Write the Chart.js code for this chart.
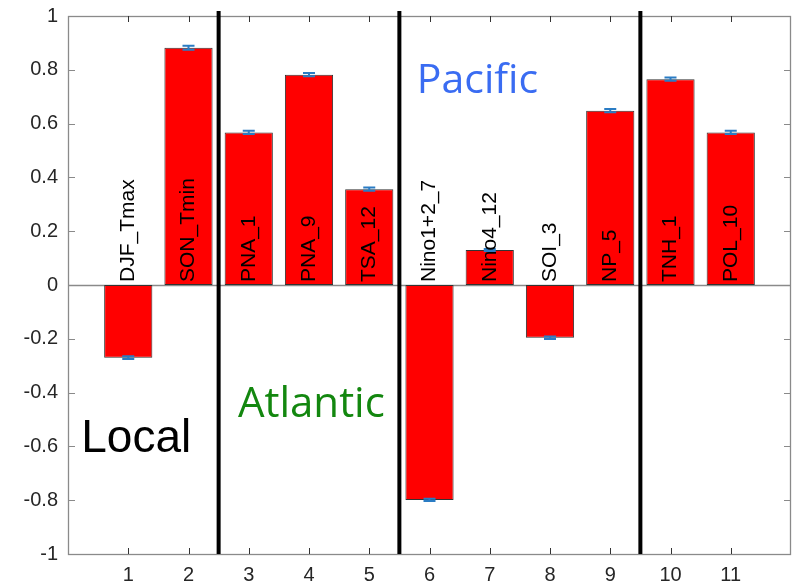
<!DOCTYPE html>
<html>
<head>
<meta charset="utf-8">
<script src="https://cdn.jsdelivr.net/npm/chart.js@4.4.1/dist/chart.umd.min.js"></script>
<style>
  body { margin: 0; background: #fff; }
  #wrap { width: 797px; height: 586px; }
</style>
</head>
<body>
<div id="wrap"><canvas id="predChart"></canvas></div>
<script>
// bar positions, names and values
const positions = [1, 2, 3, 4, 5, 6, 7, 8, 9, 10, 11];
const names = ["DJF_Tmax", "SON_Tmin", "PNA_1", "PNA_9", "TSA_12", "Nino1+2_7", "Nino4_12", "SOI_3", "NP_5", "TNH_1", "POL_10"];
const values = [-0.27, 0.882, 0.567, 0.782, 0.356, -0.799, 0.13, -0.196, 0.648, 0.765, 0.567];
const errors = [0.005, 0.007, 0.006, 0.006, 0.006, 0.004, 0.004, 0.005, 0.006, 0.006, 0.006];

// axis ticks
const xTickLabels = ["1", "2", "3", "4", "5", "6", "7", "8", "9", "10", "11"];
const yTickLabels = ["-1", "-0.8", "-0.6", "-0.4", "-0.2", "0", "0.2", "0.4", "0.6", "0.8", "1"];

// group separators and region names
const separators = [2.5, 5.5, 9.5];
const regions = [
  { text: "Local", x: 0.22, y: -0.62, color: "#000000", font: "46px 'Liberation Sans', Arial, sans-serif" },
  { text: "Atlantic", x: 2.82, y: -0.49, color: "#13870f", font: "42px 'Open Sans', sans-serif" },
  { text: "Pacific", x: 5.79, y: 0.714, color: "#3a6cf2", font: "41px 'Open Sans', sans-serif" },
];

const tickFont = { family: "'Liberation Sans', Arial, sans-serif", size: 20 };

// Draws the box, inward ticks, zero line, separators, error bars and labels
const decorPlugin = {
  id: "decor",
  beforeDatasetsDraw(chart) {
    const { ctx, chartArea: a, scales: { y } } = chart;
    ctx.save();
    ctx.strokeStyle = "#8a8a8a";
    ctx.lineWidth = 1.3;
    const y0 = Math.round(y.getPixelForValue(0)) + 0.5;
    ctx.beginPath();
    ctx.moveTo(a.left, y0);
    ctx.lineTo(a.right, y0);
    ctx.stroke();
    ctx.restore();
  },
  afterDatasetsDraw(chart) {
    const { ctx, chartArea: a, scales: { x, y } } = chart;
    ctx.save();

    // box and inward ticks
    ctx.strokeStyle = "#8a8a8a";
    ctx.lineWidth = 1.3;
    ctx.strokeRect(a.left + 0.5, a.top + 0.5, a.right - a.left - 1, a.bottom - a.top);
    ctx.strokeStyle = "#333";
    ctx.lineWidth = 1;
    ctx.beginPath();
    for (const p of positions) {
      const px = Math.round(x.getPixelForValue(p)) + 0.5;
      ctx.moveTo(px, a.top); ctx.lineTo(px, a.top + 6);
      ctx.moveTo(px, a.bottom); ctx.lineTo(px, a.bottom - 6);
    }
    ctx.stroke();
    ctx.strokeStyle = "#8a8a8a";
    ctx.beginPath();
    for (const t of yTickLabels) {
      const py = Math.round(y.getPixelForValue(parseFloat(t))) + 0.5;
      ctx.moveTo(a.left, py); ctx.lineTo(a.left + 7, py);
      ctx.moveTo(a.right, py); ctx.lineTo(a.right - 7, py);
    }
    ctx.stroke();

    // group separators
    ctx.strokeStyle = "#000";
    ctx.lineWidth = 4;
    ctx.beginPath();
    for (const s of separators) {
      const px = x.getPixelForValue(s);
      ctx.moveTo(px, a.top - 5);
      ctx.lineTo(px, a.bottom);
    }
    ctx.stroke();

    // error bars
    ctx.strokeStyle = "#2a7cc4";
    ctx.lineWidth = 2;
    ctx.beginPath();
    positions.forEach((p, i) => {
      const px = x.getPixelForValue(p);
      const lo = y.getPixelForValue(values[i] - errors[i]);
      const hi = y.getPixelForValue(values[i] + errors[i]);
      ctx.moveTo(px, lo); ctx.lineTo(px, hi);
      ctx.moveTo(px - 6, lo); ctx.lineTo(px + 6, lo);
      ctx.moveTo(px - 6, hi); ctx.lineTo(px + 6, hi);
    });
    ctx.stroke();

    // rotated bar names, starting at the zero line
    ctx.fillStyle = "#000";
    ctx.font = "21px 'Liberation Sans', Arial, sans-serif";
    ctx.textAlign = "left";
    ctx.textBaseline = "middle";
    const zero = y.getPixelForValue(0);
    positions.forEach((p, i) => {
      ctx.save();
      ctx.translate(x.getPixelForValue(p), zero - 3);
      ctx.rotate(-Math.PI / 2);
      ctx.fillText(names[i], 0, 0);
      ctx.restore();
    });

    // region names
    ctx.textBaseline = "alphabetic";
    for (const r of regions) {
      ctx.font = r.font;
      ctx.fillStyle = r.color;
      ctx.fillText(r.text, x.getPixelForValue(r.x), y.getPixelForValue(r.y));
    }
    ctx.restore();
  },
};

const ctx = document.getElementById("predChart").getContext("2d");
new Chart(ctx, {
  type: "bar",
  data: {
    datasets: [
      {
        data: positions.map((p, i) => ({ x: p, y: values[i] })),
        backgroundColor: "#ff0000",
        borderColor: "#333333",
        borderWidth: 1,
        borderSkipped: false,
        barPercentage: 0.8,
        categoryPercentage: 1,
      },
    ],
  },
  options: {
    responsive: true,
    maintainAspectRatio: false,
    animation: false,
    layout: { padding: { top: 16, right: 6, left: 0, bottom: 0 } },
    plugins: { legend: { display: false }, tooltip: { enabled: false } },
    scales: {
      x: {
        type: "linear",
        offset: false,
        min: 0,
        max: 12,
        grid: { display: false, drawTicks: false },
        border: { display: false },
        ticks: {
          stepSize: 1,
          padding: 9,
          color: "#262626",
          font: tickFont,
          maxRotation: 0,
          autoSkip: false,
          callback: (v) => xTickLabels[v - 1] ?? "",
        },
        afterFit: (s) => {
          s.height = 32;
          s.paddingLeft = 0;
          s.paddingRight = 0;
        },
      },
      y: {
        min: -1,
        max: 1,
        grid: { display: false, drawTicks: false },
        border: { display: false },
        ticks: {
          stepSize: 0.2,
          padding: 10,
          color: "#262626",
          font: tickFont,
          callback: (v) => yTickLabels[Math.round((v + 1) * 5)],
        },
        afterFit: (s) => {
          s.width = 68;
          s.paddingTop = 0;
          s.paddingBottom = 0;
        },
      },
    },
  },
  plugins: [decorPlugin],
});
</script>
</body>
</html>
